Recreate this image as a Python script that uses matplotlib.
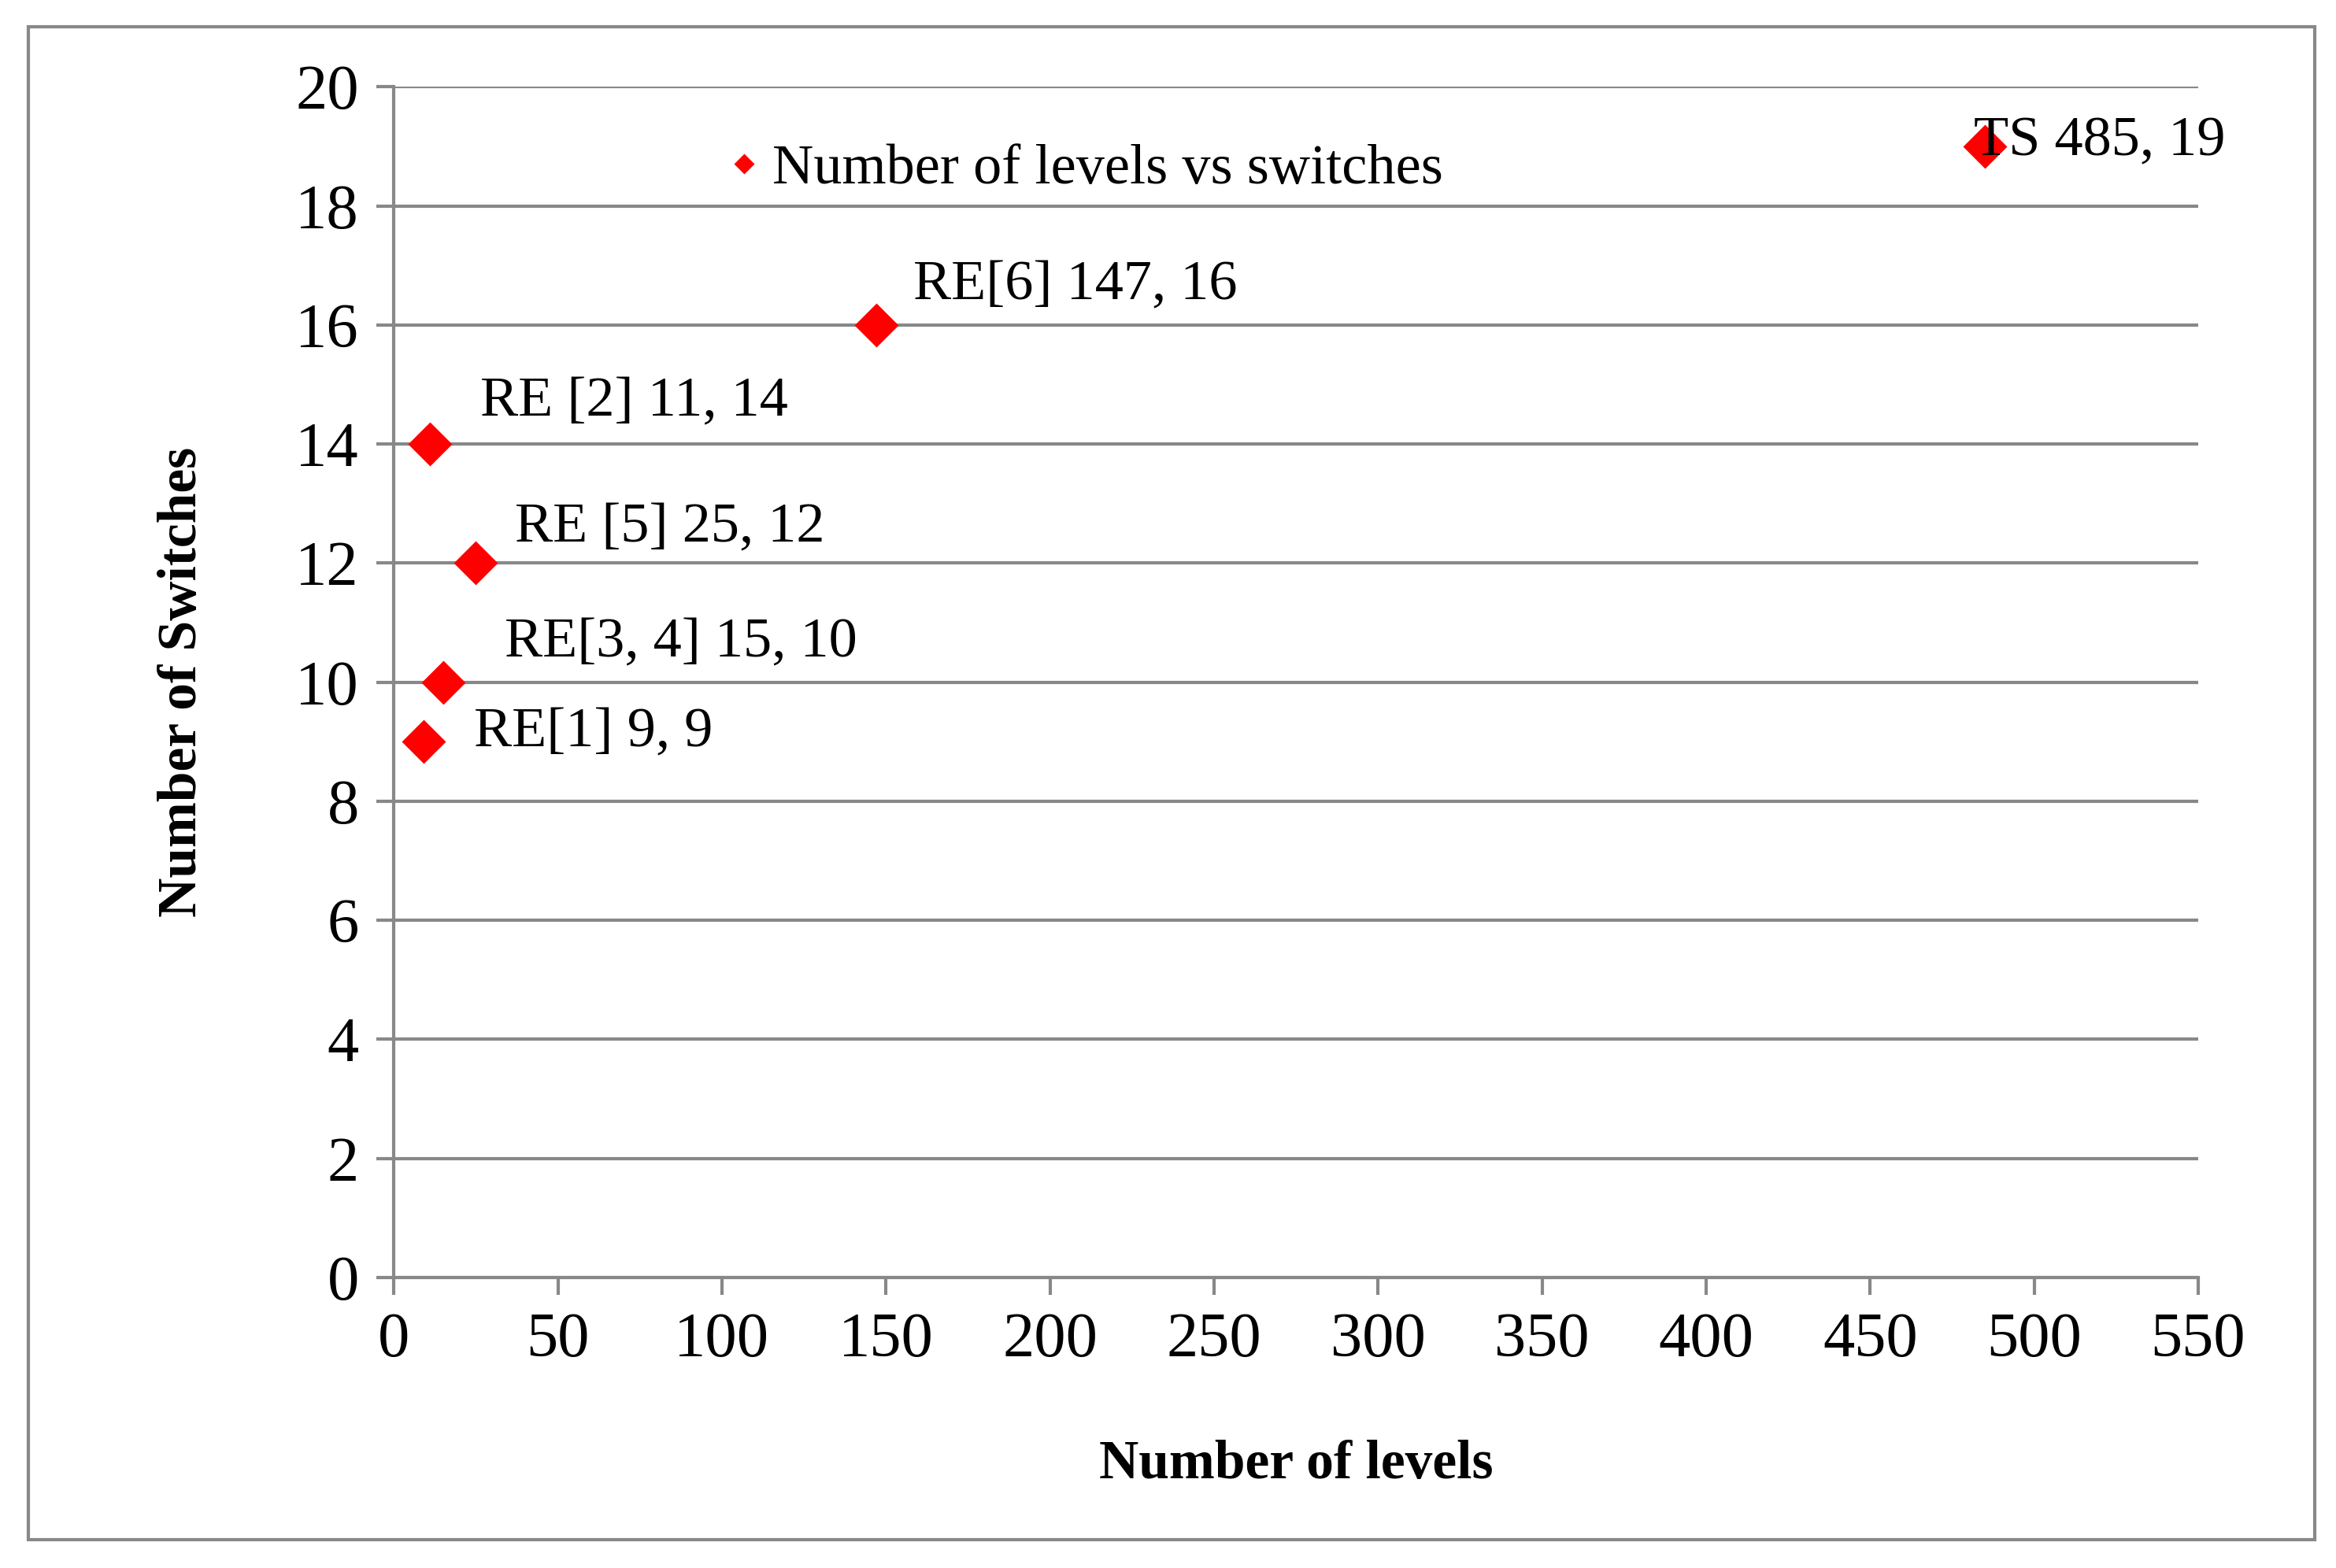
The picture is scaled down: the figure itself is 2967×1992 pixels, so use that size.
import matplotlib.pyplot as plt
from matplotlib.patches import Rectangle

levels = [9, 11, 15, 25, 147, 485]
switches = [9, 14, 10, 12, 16, 19]
labels = ["RE[1] 9, 9", "RE [2] 11, 14", "RE[3, 4] 15, 10",
          "RE [5] 25, 12", "RE[6] 147, 16", "TS 485, 19"]
offsets = [(23, 4), (23, 19), (28, 18), (18, 16), (17, 18), (-5, 2)]

plt.rcParams["font.family"] = ["Liberation Serif", "DejaVu Serif"]

fig = plt.figure(figsize=(14.835, 9.96), dpi=200)
fig.patches.append(Rectangle((0.012, 0.018), 0.979, 0.965, transform=fig.transFigure,
                             fill=False, edgecolor="#888888", linewidth=1.5))
ax = fig.add_axes([0.1686, 0.1853, 0.7724, 0.7593])

ax.plot(levels, switches, linestyle="none", marker="D", color="red",
        markersize=13, label="Number of levels vs switches")
for x, y, txt, off in zip(levels, switches, labels, offsets):
    ax.annotate(txt, (x, y), xytext=off, textcoords="offset points",
                ha="left", va="center", fontsize=26)

ax.set_xlim(0, 550)
ax.set_ylim(0, 20)
ax.set_xticks(range(0, 551, 50))
ax.set_yticks(range(0, 21, 2))
ax.tick_params(labelsize=29, length=8, width=1.5, color="#888888", pad=8)
ax.yaxis.grid(True, color="#888888", linewidth=1.5)
ax.set_axisbelow(True)
for s in ["top", "right"]:
    ax.spines[s].set_visible(False)
for s in ["left", "bottom"]:
    ax.spines[s].set_color("#888888")
    ax.spines[s].set_linewidth(1.5)

ax.set_xlabel("Number of levels", fontsize=25, fontweight="bold", labelpad=32)
ax.set_ylabel("Number of Switches", fontsize=25, fontweight="bold", labelpad=40)

ax.legend(loc="upper left", bbox_to_anchor=(0.15, 0.995), frameon=False,
          fontsize=26, markerscale=0.45, handletextpad=0.0, handlelength=1.0)

fig.savefig("out.png", dpi=200)
